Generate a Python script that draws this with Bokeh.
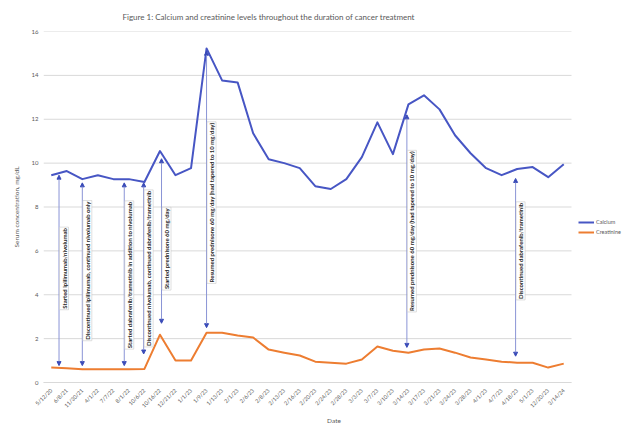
import math
from bokeh.plotting import figure
from bokeh.models import (Range1d, FixedTicker, Arrow, NormalHead, Label, Legend,
                          LegendItem, ColumnDataSource)
from bokeh.embed import file_html
from bokeh.resources import INLINE

# ---------------- data ----------------
dates = ["5/12/20", "6/8/21", "11/30/21", "4/1/22", "7/7/22", "8/1/22", "10/6/22",
         "10/16/22", "12/21/22", "1/1/23", "1/9/23", "1/13/23", "2/1/23", "2/6/23",
         "2/8/23", "2/13/23", "2/16/23", "2/20/23", "2/24/23", "2/28/23", "3/3/23",
         "3/7/23", "3/10/23", "3/14/23", "3/17/23", "3/21/23", "3/24/23", "3/28/23",
         "4/1/23", "4/7/23", "4/18/23", "5/1/23", "12/20/23", "3/14/24"]

calcium = [9.45, 9.64, 9.27, 9.45, 9.27, 9.27, 9.14, 10.55, 9.45, 9.77, 15.23, 13.77,
           13.68, 11.36, 10.18, 10.0, 9.77, 8.95, 8.82, 9.27, 10.27, 11.86, 10.41,
           12.68, 13.09, 12.45, 11.27, 10.45, 9.77, 9.45, 9.73, 9.82, 9.36, 9.95]

creatinine = [0.68, 0.65, 0.6, 0.6, 0.6, 0.6, 0.62, 2.18, 1.0, 1.0, 2.27, 2.27, 2.14,
              2.05, 1.5, 1.36, 1.23, 0.95, 0.9, 0.86, 1.05, 1.64, 1.45, 1.36, 1.5,
              1.55, 1.36, 1.14, 1.05, 0.95, 0.9, 0.9, 0.68, 0.86]

event_text = ["Started ipilimumab/nivolumab",
              "Discontinued ipilimumab, continued nivolumab only",
              "Started dabrafenib/trametinib in addition to nivolumab",
              "Discontinued nivolumab, continued dabrafenib/trametinib",
              "Started prednisone 60 mg/day",
              "Resumed prednisone 60 mg/day (had tapered to 10 mg/day)",
              "Resumed prednisone 60 mg/day (had tapered to 10 mg/day)",
              "Discontinued dabrafenib/trametinib"]
event_pos = [0.5, 2.0, 4.7, 5.95, 7.1, 10.0, 22.9, 29.9]
event_top = [9.45, 9.1, 9.1, 9.1, 10.2, 15.1, 12.2, 9.3]
event_bottom = [0.77, 0.77, 0.77, 1.3, 2.7, 2.5, 1.6, 1.2]
event_label_y = [5.2, 5.1, 4.9, 5.2, 6.1, 8.2, 6.9, 6.0]

y_ticks = [0, 2, 4, 6, 8, 10, 12, 14, 16]

FONT = "Lato"
GREY = "#595959"
BLUE = "#4756c4"
ORANGE = "#ed7d31"

idx = list(range(len(dates)))
x_lo, x_hi = -0.5, len(dates) - 0.5
# frame is widened to the right so the legend sits beside the plotted area
FIG_W, LEFT = 624, 43
PLOT_W, FRAME_W = 528.0, float(FIG_W - LEFT)
x_end = x_lo + (x_hi - x_lo) * FRAME_W / PLOT_W

p = figure(width=FIG_W, height=426, output_backend="svg", toolbar_location=None,
           x_range=Range1d(x_lo, x_end), y_range=Range1d(0, 16),
           min_border_left=LEFT, min_border_right=0, min_border_top=30,
           min_border_bottom=43)
p.outline_line_color = None
p.background_fill_color = "white"

p.title.text = "Figure 1: Calcium and creatinine levels throughout the duration of cancer treatment"
p.title.text_font = FONT
p.title.text_font_size = "8px"
p.title.text_font_style = "normal"
p.title.text_color = GREY
p.title.align = "left"
p.title.offset = 79
try:
    p.title.standoff = 19
except AttributeError:
    pass

# axes
p.xaxis.ticker = FixedTicker(ticks=idx)
p.xaxis.bounds = (x_lo, x_hi)
p.xaxis.major_label_overrides = {i: d for i, d in zip(idx, dates)}
p.xaxis.major_label_orientation = math.pi / 4
p.xaxis.major_label_text_font = FONT
p.xaxis.major_label_text_font_size = "5.5px"
p.xaxis.major_label_text_color = GREY
p.xaxis.major_tick_line_color = None
p.xaxis.minor_tick_line_color = None
p.xaxis.axis_line_color = "#d9d9d9"
p.xaxis.axis_label = "Date"
p.xaxis.axis_label_text_font = FONT
p.xaxis.axis_label_text_font_size = "6.5px"
p.xaxis.axis_label_text_font_style = "normal"
p.xaxis.axis_label_text_color = GREY
p.xaxis.axis_label_standoff = 3
p.xaxis.major_label_standoff = 1

p.yaxis.ticker = FixedTicker(ticks=y_ticks)
p.yaxis.major_label_text_font = FONT
p.yaxis.major_label_text_font_size = "6px"
p.yaxis.major_label_text_color = GREY
p.yaxis.major_tick_line_color = None
p.yaxis.minor_tick_line_color = None
p.yaxis.major_tick_out = 0
p.yaxis.minor_tick_out = 0
p.yaxis.axis_line_color = None
p.yaxis.axis_label = "Serum concentration, mg/dL"
p.yaxis.axis_label_text_font = FONT
p.yaxis.axis_label_text_font_size = "6.5px"
p.yaxis.axis_label_text_font_style = "normal"
p.yaxis.axis_label_text_color = GREY
p.yaxis.axis_label_standoff = 9
p.yaxis.major_label_standoff = 5

# horizontal gridlines limited to the plotted area
p.xgrid.grid_line_color = None
p.ygrid.grid_line_color = None
p.segment(x0=[x_lo] * len(y_ticks), x1=[x_hi] * len(y_ticks), y0=y_ticks, y1=y_ticks,
          line_color="#d9d9d9", line_width=1)

# lines
r_ca = p.line(idx, calcium, line_color=BLUE, line_width=2, line_join="round")
r_cr = p.line(idx, creatinine, line_color=ORANGE, line_width=2, line_join="round")

# event arrows
asrc = ColumnDataSource(dict(x=event_pos, top=event_top, bottom=event_bottom))
p.add_layout(Arrow(x_start="x", y_start="bottom", x_end="x", y_end="top", source=asrc,
                   line_color="#8a94d6", line_width=1,
                   start=NormalHead(size=4, fill_color="#3a4bb8", line_color="#3a4bb8"),
                   end=NormalHead(size=4, fill_color="#3a4bb8", line_color="#3a4bb8")))

for xp, yp, txt in zip(event_pos, event_label_y, event_text):
    p.add_layout(Label(x=xp, y=yp, x_offset=5, text=txt, angle=math.pi / 2,
                       text_align="center", text_baseline="middle",
                       text_font=FONT, text_font_size="6px", text_font_style="bold",
                       text_color="#1f1f1f", background_fill_color="white",
                       border_line_color="#bfbfbf", border_line_width=0.5,
                       padding=1))

legend = Legend(items=[LegendItem(label="Calcium", renderers=[r_ca]),
                       LegendItem(label="Creatinine", renderers=[r_cr])],
                location=(535, 146), padding=2, margin=0, spacing=2,
                glyph_width=16, glyph_height=8, label_height=8, label_standoff=2,
                label_text_font=FONT, label_text_font_size="5.5px",
                label_text_color=GREY, border_line_color=None,
                background_fill_alpha=0)
p.add_layout(legend)

open("out.html", "w").write(file_html(p, INLINE))
